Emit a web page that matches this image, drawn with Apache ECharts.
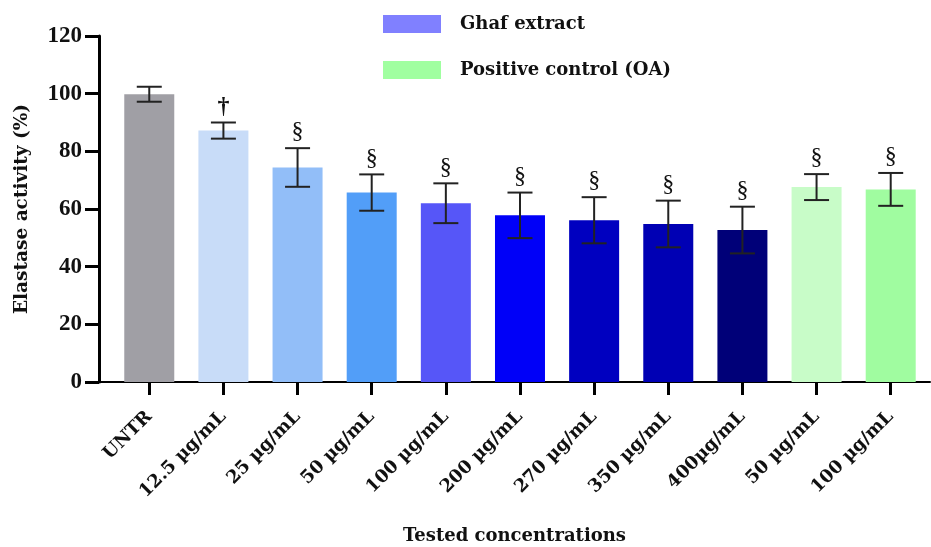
<!DOCTYPE html>
<html>
<head>
<meta charset="utf-8">
<script src="https://cdn.jsdelivr.net/npm/echarts@6/dist/echarts.min.js"></script>
<style>
  html, body { margin: 0; padding: 0; background: #fff; }
  #chart { width: 931px; height: 547px; }
</style>
</head>
<body>
<div id="chart"></div>
<script>
// Elastase activity by treatment concentration
const categories = ['UNTR', '12.5 µg/mL', '25 µg/mL', '50 µg/mL', '100 µg/mL', '200 µg/mL',
  '270 µg/mL', '350 µg/mL', '400µg/mL', '50 µg/mL', '100 µg/mL'];
const means = [99.8, 87.2, 74.4, 65.7, 62.0, 57.8, 56.1, 54.8, 52.7, 67.6, 66.8];
const sds = [2.6, 2.8, 6.7, 6.3, 6.9, 7.9, 8.0, 8.1, 8.1, 4.5, 5.7];
const marks = ['', '†', '§', '§', '§', '§', '§', '§', '§', '§', '§'];
const barColors = ['#a09fa5', '#c8dcf8', '#92bef8', '#529ef8', '#5656f8', '#0000f8',
  '#0000c0', '#0000b4', '#000078', '#c8fcc8', '#a0fca0'];
const legendNames = ['Ghaf extract', 'Positive control (OA)'];
const legendColors = ['#8080ff', '#a0ffa0'];
const yTicks = { min: 0, max: 120, interval: 20 };

const TEXT_FONT = '"DejaVu Serif", "Liberation Serif", serif';
const NUM_FONT = '"Liberation Serif", "DejaVu Serif", serif';
const idx = categories.map((_, i) => i);

const chart = echarts.init(document.getElementById('chart'), null, { renderer: 'canvas' });

const option = {
  animation: false,
  backgroundColor: '#ffffff',
  grid: { left: 99, right: 1, top: 36, bottom: 165, outerBoundsMode: 'none' },
  legend: {
    orient: 'vertical',
    left: 383,
    top: 15,
    padding: 0,
    itemWidth: 58,
    itemHeight: 18,
    itemGap: 28,
    icon: 'rect',
    selectedMode: false,
    textStyle: {
      fontFamily: TEXT_FONT, fontWeight: 'bold', fontSize: 18, color: '#111',
      padding: [0, 0, 0, 14], lineHeight: 18
    },
    data: legendNames.map((n, i) => ({ name: n, itemStyle: { color: legendColors[i] } }))
  },
  xAxis: {
    type: 'value',
    min: -0.678,
    max: 10.53,
    name: 'Tested concentrations',
    nameLocation: 'middle',
    nameGap: 145,
    nameTextStyle: { fontFamily: TEXT_FONT, fontWeight: 'bold', fontSize: 18, color: '#111' },
    splitLine: { show: false },
    axisLine: { show: true, onZero: false, lineStyle: { color: '#000', width: 2 } },
    axisTick: { show: true, customValues: idx, length: 13, lineStyle: { color: '#000', width: 3 } },
    axisLabel: {
      customValues: idx,
      rotate: 45,
      margin: 32,
      fontFamily: TEXT_FONT, fontWeight: 'bold', fontSize: 18, color: '#111',
      formatter: v => categories[Math.round(v)]
    }
  },
  yAxis: {
    type: 'value',
    min: yTicks.min,
    max: yTicks.max,
    interval: yTicks.interval,
    name: 'Elastase activity (%)',
    nameLocation: 'middle',
    nameGap: 67,
    nameTextStyle: { fontFamily: TEXT_FONT, fontWeight: 'bold', fontSize: 18.5, color: '#111' },
    splitLine: { show: false },
    axisLine: { show: true, onZero: false, lineStyle: { color: '#000', width: 3 } },
    axisTick: { show: true, length: 14, lineStyle: { color: '#000', width: 3 } },
    axisLabel: { margin: 17, fontFamily: NUM_FONT, fontWeight: 'bold', fontSize: 23, color: '#111' }
  },
  series: [
    {
      type: 'bar',
      barWidth: 50,
      data: means.map((m, i) => ({ value: [i, m], itemStyle: { color: barColors[i] } })),
      z: 2
    },
    {
      type: 'custom',
      z: 3,
      data: means.map((m, i) => [i, m, sds[i]]),
      renderItem: function (params, api) {
        const i = api.value(0);
        const m = api.value(1);
        const s = api.value(2);
        const top = api.coord([i, m + s]);
        const bot = api.coord([i, m - s]);
        const half = 12.5;
        const style = { stroke: '#222', lineWidth: 2 };
        const children = [
          { type: 'line', shape: { x1: top[0], y1: top[1], x2: bot[0], y2: bot[1] }, style },
          { type: 'line', shape: { x1: top[0] - half, y1: top[1], x2: top[0] + half, y2: top[1] }, style },
          { type: 'line', shape: { x1: bot[0] - half, y1: bot[1], x2: bot[0] + half, y2: bot[1] }, style }
        ];
        const mark = marks[i];
        if (mark) {
          children.push({
            type: 'text',
            style: {
              text: mark, x: top[0], y: top[1] - 4,
              align: 'center', verticalAlign: 'bottom',
              font: (mark === '†' ? 'bold 24px ' : '24px ') + NUM_FONT, fill: '#111'
            }
          });
        }
        return { type: 'group', children };
      }
    },
    // legend entries
    { type: 'line', name: legendNames[0], data: [], itemStyle: { color: legendColors[0] } },
    { type: 'line', name: legendNames[1], data: [], itemStyle: { color: legendColors[1] } }
  ]
};

chart.setOption(option);
</script>
</body>
</html>
